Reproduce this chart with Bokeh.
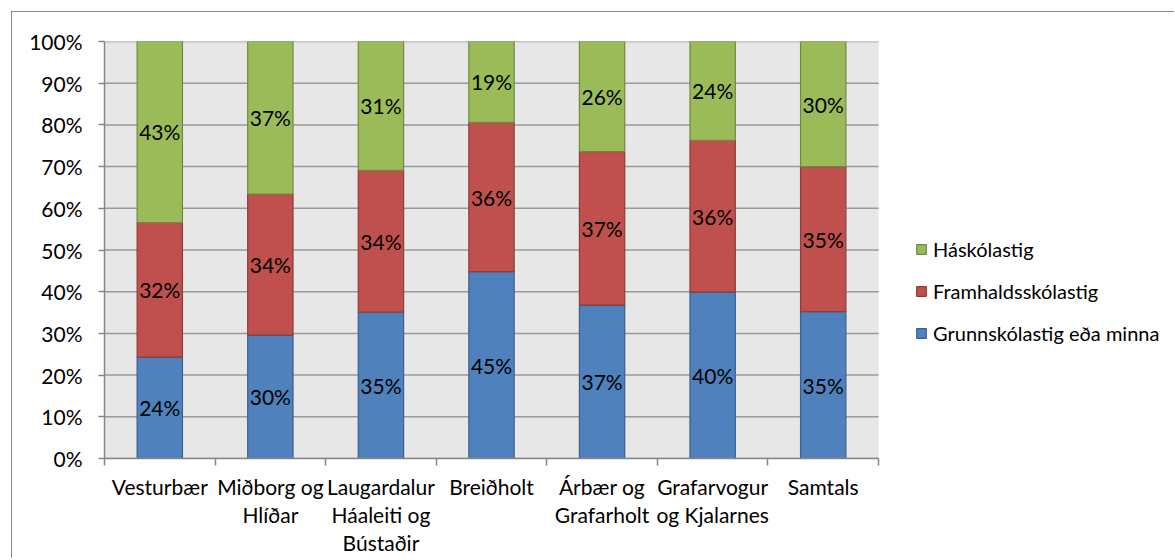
from bokeh.plotting import figure
from bokeh.models import ColumnDataSource, FixedTicker, Legend, LegendItem, Range1d, LinearAxis
from bokeh.embed import file_html
from bokeh.resources import INLINE
from bokeh.core.properties import value

categories = ["Vesturbær", "Miðborg og\nHlíðar", "Laugardalur\nHáaleiti og\nBústaðir",
              "Breiðholt", "Árbær og\nGrafarholt", "Grafarvogur\nog Kjalarnes", "Samtals"]
series_names = ["Grunnskólastig eða minna", "Framhaldsskólastig", "Háskólastig"]
grunn = [24.3, 29.6, 35.1, 44.8, 36.8, 39.9, 35.2]
framhald = [32.3, 33.8, 34.0, 35.8, 36.8, 36.4, 34.8]
haskoli = [43.4, 36.6, 30.9, 19.4, 26.4, 23.7, 30.0]
y_ticks = [0, 10, 20, 30, 40, 50, 60, 70, 80, 90, 100]

fills = ["#4F81BD", "#C0504D", "#9BBB59"]
lines = ["#3A5F8B", "#8E3B39", "#71893F"]
FONT = "Lato"
FS = "21px"
AXIS_C = "#868686"

N = len(categories)
W, H = 1163, 547
BL, BR, BT, BB = 92, 0, 29, 101
plot_px = 774.0                      # width of the category area in pixels
frame_w = W - BL - BR
x_end = N * frame_w / plot_px        # extra room on the right for the legend

xs = [i + 0.5 for i in range(N)]
src = ColumnDataSource(dict(x=xs, g=grunn, f=framhald, h=haskoli))

p = figure(width=W, height=H, output_backend="svg", toolbar_location=None,
           x_range=Range1d(0, x_end), y_range=Range1d(0, 100),
           min_border_left=BL, min_border_right=BR, min_border_top=BT, min_border_bottom=BB)
p.styles = {"border-left": "1px solid #878787", "border-top": "1px solid #878787",
            "margin-left": "11px", "margin-top": "11px"}

p.background_fill_color = "white"
p.border_fill_color = "white"
p.outline_line_color = None

# plot-area background and gridlines limited to the category area
p.quad(left=[0], right=[N], bottom=[0], top=[100], fill_color="#E7E7E7",
       line_color=None, level="image")
p.segment(x0=[0] * len(y_ticks), x1=[N] * len(y_ticks), y0=y_ticks, y1=y_ticks,
          line_color="#9A9A9A", line_width=1.5, level="underlay")

rs = p.vbar_stack(["g", "f", "h"], x="x", width=0.41, source=src,
                  fill_color=fills, line_color=lines, line_width=1.2)

# data labels
series = [grunn, framhald, haskoli]
lx, ly, lt = [], [], []
for i in range(N):
    base = 0
    for s in series:
        v = s[i]
        lx.append(xs[i])
        ly.append(base + v / 2)
        lt.append(f"{round(v)}%")
        base += v
p.text(x=lx, y=ly, text=lt, text_align="center", text_baseline="middle",
       text_font=value(FONT), text_font_size=value(FS), text_color="black")

# x axes: one axis per line of the category labels
split = [c.split("\n") for c in categories]
n_lines = max(len(s) for s in split)
line_labels = [[s[k] if k < len(s) else "" for s in split] for k in range(n_lines)]

def style_labels(ax, standoff):
    ax.major_label_standoff = standoff
    ax.major_label_text_font = FONT
    ax.major_label_text_font_size = FS
    ax.major_label_text_color = "black"

xa = p.xaxis[0]
xa.bounds = (0, N)
xa.ticker = FixedTicker(ticks=xs, minor_ticks=list(range(N + 1)))
xa.major_label_overrides = {x: c for x, c in zip(xs, line_labels[0])}
xa.major_tick_out = 0
xa.major_tick_in = 0
xa.minor_tick_out = 7
xa.minor_tick_in = 0
xa.minor_tick_line_color = AXIS_C
xa.minor_tick_line_width = 1.5
xa.axis_line_color = AXIS_C
xa.axis_line_width = 1.5
style_labels(xa, 8)

for k in range(1, n_lines):
    ax = LinearAxis(ticker=FixedTicker(ticks=xs, minor_ticks=[]), bounds=(0, N))
    ax.major_label_overrides = {x: c for x, c in zip(xs, line_labels[k])}
    ax.axis_line_color = None
    ax.major_tick_line_color = None
    ax.major_tick_out = 0
    ax.major_tick_in = 0
    ax.minor_tick_out = 0
    ax.minor_tick_in = 0
    style_labels(ax, 0)
    p.add_layout(ax, "below")

ya = p.yaxis[0]
ya.ticker = FixedTicker(ticks=y_ticks, minor_ticks=[])
ya.major_label_overrides = {t: f"{t}%" for t in y_ticks}
ya.major_tick_out = 6
ya.major_tick_in = 0
ya.major_tick_line_color = AXIS_C
ya.major_tick_line_width = 1.5
ya.axis_line_color = AXIS_C
ya.axis_line_width = 1.5
style_labels(ya, 16)

p.xgrid.grid_line_color = None
p.ygrid.grid_line_color = None

legend = Legend(items=[LegendItem(label=series_names[k], renderers=[rs[k]]) for k in (2, 1, 0)],
                location=(811, 113))
legend.label_text_font = FONT
legend.label_text_font_size = "20px"
legend.label_text_color = "black"
legend.glyph_width = 12
legend.glyph_height = 12
legend.label_standoff = 6
legend.label_height = 20
legend.spacing = 18
legend.padding = 0
legend.margin = 0
legend.border_line_alpha = 0
legend.background_fill_alpha = 0
p.add_layout(legend)

open("out.html", "w").write(file_html(p, INLINE))
